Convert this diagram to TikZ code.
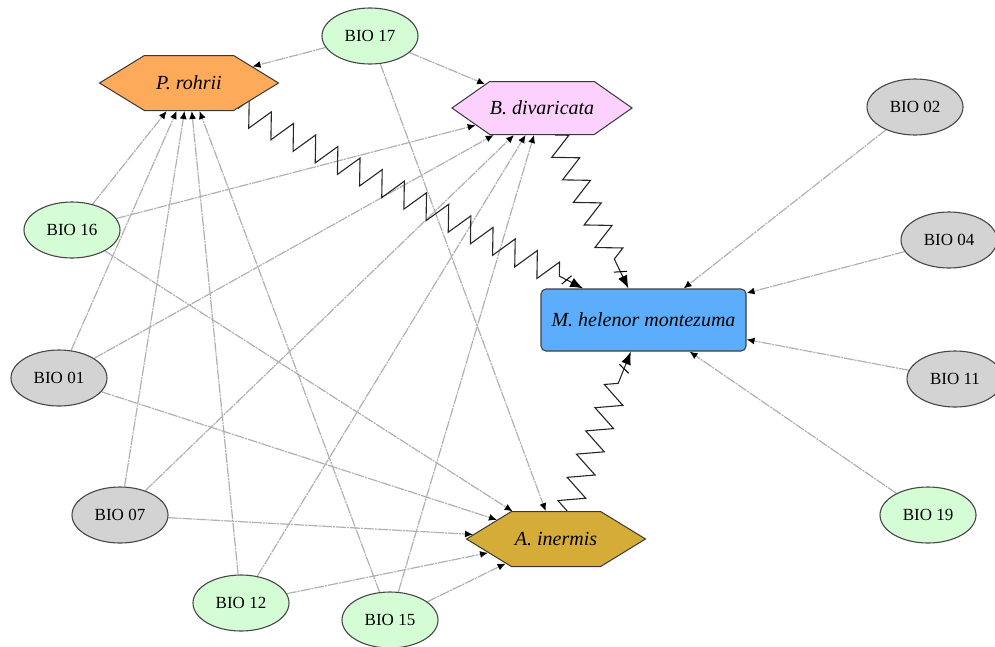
\documentclass[tikz,border=0pt]{standalone}
\usepackage{fontspec}
\setmainfont{Liberation Serif}
\usetikzlibrary{shapes.geometric,shapes.symbols,arrows.meta,decorations.pathmorphing}
\pgfdeclarelayer{bg}
\pgfsetlayers{bg,main}
\definecolor{bioGreen}{HTML}{D5FDD5}
\definecolor{bioGray}{HTML}{D3D3D3}
\definecolor{spOrange}{HTML}{FDAA5A}
\definecolor{spPink}{HTML}{FDD1FD}
\definecolor{spBlue}{HTML}{5CADFC}
\definecolor{spGold}{HTML}{D6AC38}
\definecolor{edgeGray}{HTML}{B0B0B0}
\tikzset{
  bio/.style={ellipse, draw=black!72, line width=1.1pt, minimum width=96pt, minimum height=56pt, inner sep=0pt, font=\fontsize{17}{20}\selectfont},
  biog/.style={bio, fill=bioGreen},
  biox/.style={bio, fill=bioGray},
  hexa/.style={signal, signal to=east and west, signal pointer angle=63, draw=black!78, line width=1pt, minimum width=179pt, minimum height=55pt, inner sep=0pt, font=\fontsize{20}{24}\selectfont\itshape},
  inf/.style={draw=edgeGray, line width=1.2pt, dash pattern=on 10pt off 1pt on 2pt off 1pt, -{Latex[length=8pt,width=7pt,color=black]}},
  zz/.style={draw=black!85, line width=1.1pt, decorate, decoration={zigzag, segment length=25pt, amplitude=12.5pt, post length=24pt}, -{Bar[width=12pt,slant=0.4,sep=5pt,color=black] Latex[length=13pt,width=10pt,color=black]}}
}
\begin{document}
\begin{tikzpicture}[x=1pt,y=-1pt]
\useasboundingbox (0,0) rectangle (995,646);
\node[biog] (b17) at (370,36) {BIO 17};
\node[hexa, fill=spOrange] (prohrii) at (189,83) {P. rohrii};
\node[hexa, fill=spPink, minimum height=53pt, signal pointer angle=70] (bdiv) at (542,108) {B. divaricata};
\node[biox] (b02) at (915,107) {BIO 02};
\node[biog] (b16) at (72,230) {BIO 16};
\node[biox] (b04) at (949,240) {BIO 04};
\node[rectangle, rounded corners=5pt, draw=black!75, line width=1.1pt, fill=spBlue, minimum width=205pt, minimum height=62pt, inner sep=0pt, font=\fontsize{20}{24}\selectfont\itshape] (mhel) at (643.5,320) {M. helenor montezuma};
\node[biox] (b01) at (59,378) {BIO 01};
\node[biox] (b11) at (955,379) {BIO 11};
\node[biox] (b07) at (120,515) {BIO 07};
\node[hexa, fill=spGold] (ainer) at (556,539) {A. inermis};
\node[biog] (b19) at (928,515) {BIO 19};
\node[biog] (b12) at (241,603) {BIO 12};
\node[biog] (b15) at (390,620) {BIO 15};
\begin{pgfonlayer}{bg}
\foreach \s in {b17,b16,b01,b07,b12,b15}{
  \draw[inf] (\s) -- (prohrii);
  \draw[inf] (\s) -- (bdiv);
  \draw[inf] (\s) -- (ainer);
}
\foreach \s in {b02,b04,b11,b19}{
  \draw[inf] (\s) -- (mhel);
}
\draw[zz] (prohrii) -- (mhel);
\draw[zz] (bdiv) -- (mhel);
\draw[zz] (ainer) -- (mhel);
\end{pgfonlayer}
\end{tikzpicture}
\end{document}
